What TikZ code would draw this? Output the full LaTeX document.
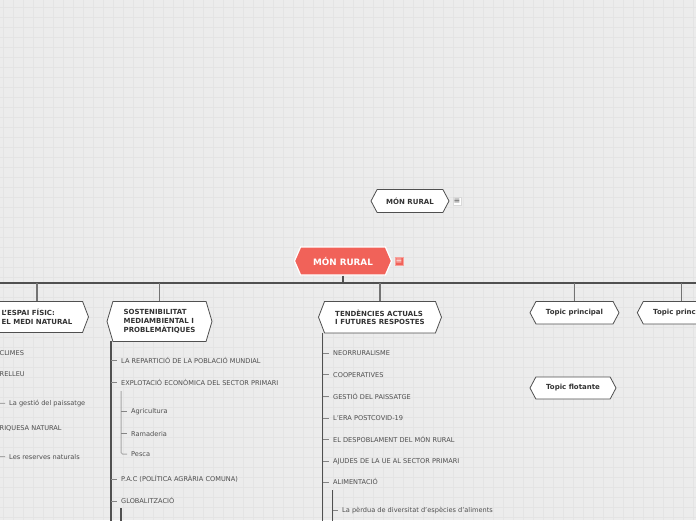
\documentclass[tikz,border=0pt]{standalone}
\usepackage{fontspec}
\setmainfont{DejaVu Sans}
\usetikzlibrary{positioning, shapes.symbols, calc}

\definecolor{paper}{RGB}{236,236,236}
\definecolor{gridgray}{RGB}{228,228,228}
\definecolor{rural}{RGB}{241,98,89}
\definecolor{edgegray}{RGB}{80,80,80}
\definecolor{textdark}{RGB}{51,51,51}
\definecolor{textsub}{RGB}{78,78,78}

\begin{document}
\begin{tikzpicture}[x=1pt, y=-1pt,
  topicbox/.style={signal, signal to=west and east, signal pointer angle=#1, draw=edgegray, line width=0.8pt, fill=white, text=textdark, font=\bfseries\fontsize{7}{8.6}\selectfont, align=left, inner sep=0pt},
  centralbox/.style={signal, signal to=west and east, signal pointer angle=133, draw=white, line width=1.2pt, fill=rural, text=white, font=\bfseries\fontsize{8.8}{10}\selectfont, inner sep=0pt, minimum width=97pt, minimum height=28pt},
  leaf/.style={anchor=west, inner sep=0pt, text height=4.8pt, text depth=0pt, text=textsub, font=\fontsize{6.6}{8}\selectfont},
  noteicon/.style={draw=#1, line width=0.5pt, minimum size=8.5pt, inner sep=0pt, font=\fontsize{8}{8}\selectfont},
  bar/.style={draw=edgegray, line width=1.8pt},
  branch/.style={draw=edgegray!80, line width=1.2pt},
  trunk/.style={draw=edgegray, line width=1.6pt},
  subtrunk/.style={draw=edgegray!50, line width=1pt},
  twig/.style={draw=edgegray!70, line width=0.8pt}
]

% ---------- Paper ----------
\clip (0,0) rectangle (696,520);
\fill[paper] (0,0) rectangle (696,520);
\foreach \gx in {3,13,...,693} \draw[gridgray, line width=0.5pt] (\gx,0) -- (\gx,520);
\foreach \gy in {7,17,...,517} \draw[gridgray, line width=0.5pt] (0,\gy) -- (696,\gy);

% ---------- Central topic ----------
\node[centralbox] (main) at (343,261) {MÓN RURAL};
\node[noteicon=rural!60!white, fill=rural, text=white] (mainNote) at (399,261) {≡};

\node[topicbox=124, minimum width=78pt, minimum height=23pt] (floatMon) at (410,201) {MÓN RURAL};
\node[noteicon=gray!30, fill=white, text=textsub] (floatNote) at (457,201) {≡};

% ---------- Main topics ----------
\node[topicbox=138, minimum width=103pt, minimum height=31pt, anchor=north] (espai) at (37,301) {L'ESPAI FÍSIC:\\EL MEDI NATURAL};
\node[topicbox=147, minimum width=105pt, minimum height=40pt, anchor=north] (sost) at (159.5,301) {SOSTENIBILITAT\\MEDIAMBIENTAL I\\PROBLEMÀTIQUES};
\node[topicbox=138, minimum width=123pt, minimum height=31.5pt, anchor=north] (tend) at (380,301) {TENDÈNCIES ACTUALS\\I FUTURES RESPOSTES};
\node[topicbox=124, minimum width=89pt, minimum height=22.6pt, anchor=north] (topA) at (574.5,301) {Topic principal};
\node[topicbox=124, minimum width=89pt, minimum height=22.6pt, anchor=north] (topB) at (681.8,301) {Topic principal};

\node[topicbox=124, minimum width=86pt, minimum height=22pt] (flot) at (573,388) {Topic flotante};

% ---------- Subtopics: L'espai físic ----------
\coordinate (espaiT) at (-10,333);
\coordinate (espaiE) at (-10,521);
\node[leaf] (e1) at (-0.5,353.3) {CLIMES};
\node[leaf] (e2) at (-0.5,374.3) {RELLEU};
\node[leaf] (e2a) at (9,403.3) {La gestió del paissatge};
\node[leaf] (e3) at (-0.5,428.3) {RIQUESA NATURAL};
\node[leaf] (e3a) at (9,456.7) {Les reserves naturals};
\coordinate (e2T) at (-2,382);
\coordinate (e3T) at (-2,436);

% ---------- Subtopics: Sostenibilitat ----------
\coordinate (sostT) at (111,341);
\coordinate (sostE) at (111,521);
\node[leaf] (s1) at (121,360.7) {LA REPARTICIÓ DE LA POBLACIÓ MUNDIAL};
\node[leaf] (s2) at (121,382.7) {EXPLOTACIÓ ECONÒMICA DEL SECTOR PRIMARI};
\node[leaf] (s2a) at (131,411) {Agricultura};
\node[leaf] (s2b) at (131,433.7) {Ramaderia};
\node[leaf] (s2c) at (131,454) {Pesca};
\node[leaf] (s3) at (121,479.3) {P.A.C (POLÍTICA AGRÀRIA COMUNA)};
\node[leaf] (s4) at (121,501) {GLOBALITZACIÓ};
\coordinate (s2T) at (121,391);
\coordinate (s4T) at (121,508);
\coordinate (s4E) at (121,521);

% ---------- Subtopics: Tendències ----------
\coordinate (tendT) at (322.5,332.5);
\coordinate (tendE) at (322.5,521);
\node[leaf] (t1) at (333,353.3) {NEORRURALISME};
\node[leaf] (t2) at (333,374.7) {COOPERATIVES};
\node[leaf] (t3) at (333,396.7) {GESTIÓ DEL PAISSATGE};
\node[leaf] (t4) at (333,418) {L'ERA POSTCOVID-19};
\node[leaf] (t5) at (333,439.7) {EL DESPOBLAMENT DEL MÓN RURAL};
\node[leaf] (t6) at (333,461) {AJUDES DE LA UE AL SECTOR PRIMARI};
\node[leaf] (t7) at (333,482.3) {ALIMENTACIÓ};
\node[leaf] (t7a) at (342,510) {La pèrdua de diversitat d'espècies d'aliments};
\coordinate (t7T) at (332.5,490);
\coordinate (t7E) at (332.5,521);

% ---------- Connectors ----------
\coordinate (barL) at (-5,283);
\coordinate (barR) at (701,283);
\draw[bar] (barL) -- (barR);
\draw[bar] (main.south) -- (main.south |- barL);
\foreach \n in {espai,sost,tend,topA,topB}
  \draw[branch] (\n.north) -- (\n.north |- barL);

\draw[trunk] (espaiT) -- (espaiE);
\foreach \c in {e1,e2,e3}
  \draw[twig] (espaiT |- \c.west) -- ([xshift=-4pt]\c.west);
\draw[subtrunk, rounded corners=1.5pt] (e2T) |- ([xshift=-4pt]e2a.west);
\draw[subtrunk, rounded corners=1.5pt] (e3T) |- ([xshift=-4pt]e3a.west);

\draw[trunk] (sostT) -- (sostE);
\foreach \c in {s1,s2,s3,s4}
  \draw[twig] (sostT |- \c.west) -- ([xshift=-4pt]\c.west);
\draw[subtrunk, rounded corners=1.5pt] (s2T) |- ([xshift=-4pt]s2c.west);
\foreach \c in {s2a,s2b}
  \draw[twig] (s2T |- \c.west) -- ([xshift=-4pt]\c.west);
\draw[trunk] (s4T) -- (s4E);

\draw[trunk] (tendT) -- (tendE);
\foreach \c in {t1,t2,t3,t4,t5,t6,t7}
  \draw[twig] (tendT |- \c.west) -- ([xshift=-4pt]\c.west);
\draw[trunk, line width=1.2pt] (t7T) -- (t7E);
\draw[twig] (t7T |- t7a.west) -- ([xshift=-4pt]t7a.west);

\end{tikzpicture}
\end{document}
